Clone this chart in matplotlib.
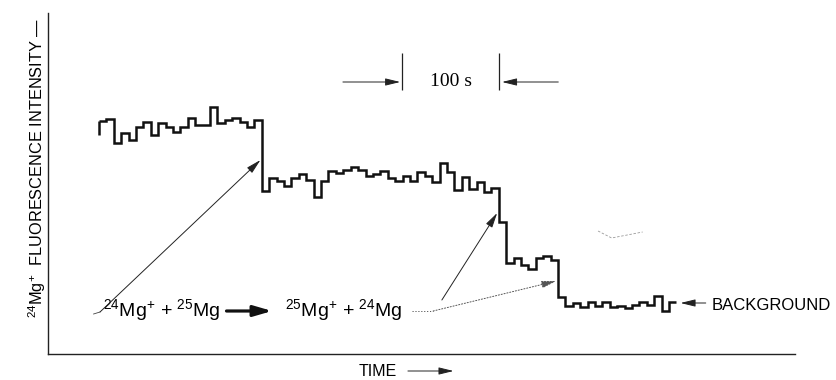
#!/usr/bin/env python3
"""Strip-chart trace of 24Mg+ fluorescence dropping step by step to background."""

import numpy as np
import matplotlib
matplotlib.use('Agg')
import matplotlib.pyplot as plt

plt.rcParams['font.family'] = ['Liberation Sans', 'DejaVu Sans']
plt.rcParams['mathtext.fontset'] = 'custom'
plt.rcParams['mathtext.rm'] = 'Liberation Sans'
plt.rcParams['mathtext.it'] = 'Liberation Sans:italic'
plt.rcParams['mathtext.bf'] = 'Liberation Sans:bold'

# counting bins (seconds)
BIN_START_S = 52.6
BIN_WIDTH_S = 7.63

# fluorescence per bin, arbitrary units
counts_three_ions = [233, 235, 211, 221, 214, 227, 232, 219, 231, 227, 222,
                     227, 236, 229, 229, 247, 231, 234, 236, 232, 227, 234]
counts_two_ions = [163, 176, 173, 168, 176, 180, 174, 157, 173, 183, 181,
                   184, 187, 184, 178, 180, 183, 176, 173, 178, 173, 182,
                   178, 172, 191, 182, 164, 177, 165, 172, 162, 166]
counts_one_ion = [132, 91, 96, 89, 85, 96, 98, 94]
counts_background = [57, 48, 51, 47, 52, 48, 52, 47, 48, 46, 49, 52, 49,
                     58, 43, 52]
pen_start_level = 219

counts = np.array(counts_three_ions + counts_two_ions + counts_one_ion + counts_background, float)
edges = BIN_START_S + BIN_WIDTH_S * np.arange(len(counts) + 1)

fig = plt.figure(figsize=(8.36, 3.8), dpi=100)
ax = fig.add_axes([48 / 836, 26 / 380, 747 / 836, 341 / 380])
ax.set_xlim(0, 770)
ax.set_ylim(0, 341)
for side in ('top', 'right'):
    ax.spines[side].set_visible(False)
for side in ('left', 'bottom'):
    ax.spines[side].set_linewidth(1.0)
    ax.spines[side].set_color('#222222')
ax.set_xticks([])
ax.set_yticks([])

trace_kw = dict(color='#111111', linewidth=1.8)
ax.stairs(counts, edges, baseline=None, **trace_kw)
ax.vlines(edges[0], pen_start_level, counts[0], **trace_kw)

thin = dict(arrowstyle='-|>,head_length=0.9,head_width=0.22', lw=0.7, color='#222222',
            shrinkA=0, shrinkB=0)

# 100 s scale marker
ax.vlines([365, 465], 264, 301, color='#222222', lw=0.9)
ax.annotate('', xy=(363, 272), xytext=(304, 272), arrowprops=thin)
ax.annotate('', xy=(468, 272), xytext=(526, 272), arrowprops=thin)
ax.text(415, 272, '100 s', ha='center', va='center', fontsize=14,
        family=['Liberation Serif', 'DejaVu Serif'])

# reaction label and arrows to the steps
ax.text(56.7, 38, r'$^{24}$Mg$^{+}$ + $^{25}$Mg', fontsize=14, va='baseline')
ax.annotate('', xy=(231, 43), xytext=(184, 43),
            arrowprops=dict(arrowstyle='-|>,head_length=1.1,head_width=0.32',
                            lw=2.3, color='#111111', shrinkA=0, shrinkB=0))
ax.text(244, 38, r'$^{25}$Mg$^{+}$ + $^{24}$Mg', fontsize=14, va='baseline')
ax.plot([47, 53.6], [40, 42], color='#444444', lw=0.6)
ax.annotate('', xy=(219, 194), xytext=(53.6, 42), arrowprops=thin)
ax.annotate('', xy=(463, 141), xytext=(406, 54), arrowprops=thin)
dotted = dict(thin, linestyle=(0, (1.2, 1.8)), color='#555555')
ax.plot([375, 397], [43, 43], color='#555555', lw=0.7, linestyle=(0, (1.2, 1.8)))
ax.annotate('', xy=(524, 73), xytext=(397, 43), arrowprops=dotted)

# faint scan mark
ax.plot([567, 581, 613], [123, 116, 122], color='#9a9a9a', lw=0.6, linestyle=(0, (3, 2)))

# background label
ax.annotate('', xy=(652, 51), xytext=(678, 51), arrowprops=thin)
ax.text(684.5, 44, 'BACKGROUND', fontsize=12, va='baseline')

# axis labels
ax.text(-11.3, 186, r'$^{24}$Mg$^{+}$  FLUORESCENCE INTENSITY —', rotation=90,
        ha='center', va='center', fontsize=11.8)
ax.text(320.6, -22, 'TIME', fontsize=11.5, va='baseline')
ax.annotate('', xy=(418, -17), xytext=(371, -17), arrowprops=thin,
            annotation_clip=False)

fig.savefig('out.png', dpi=100)
